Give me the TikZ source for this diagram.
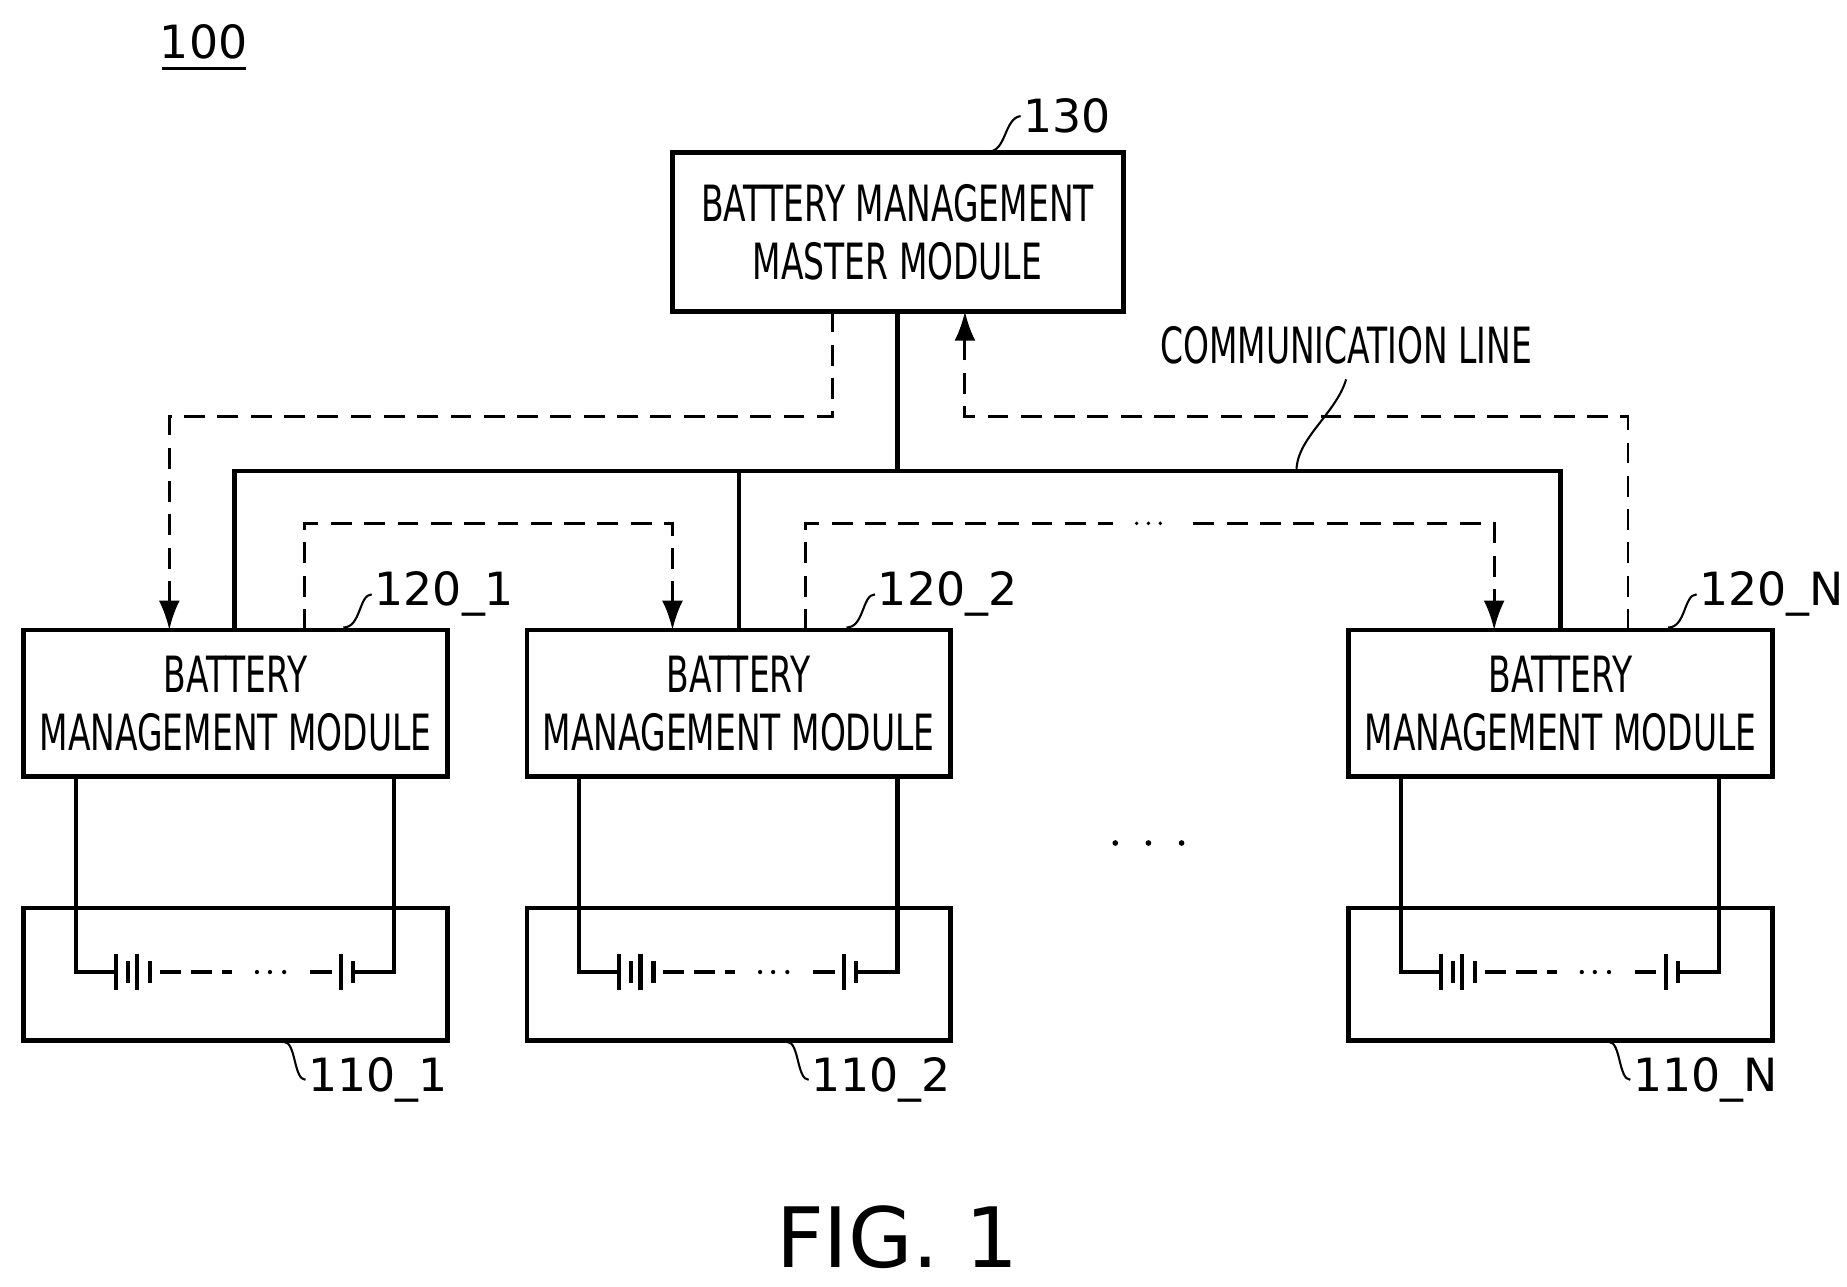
\documentclass[tikz,border=0pt]{standalone}
\usepackage{fontspec}
\setmainfont{DejaVu Sans}
\newfontfamily\narrowfont[FakeStretch=0.66]{DejaVu Sans}
\usetikzlibrary{arrows.meta}
\tikzset{box/.style = {draw, line width = 1.1pt, inner sep = 0pt},
         lab/.style = {font = \narrowfont\fontsize{12}{14}\selectfont, align = center},
         num/.style = {font = \fontsize{11}{13}\selectfont, inner sep = 0.5pt, anchor = west},
         bus/.style = {line width = 1pt},
         sig/.style = {line width = 0.7pt, dash pattern = on 5pt off 3pt},
         lead/.style = {line width = 0.5pt}}
\begin{document}
\begin{tikzpicture}%
            [x = 0.01cm, y = -0.01cm]
            \useasboundingbox (0,0) rectangle (1560,1087);
            \node [num, anchor = center] (n100) at (172,35) {100};
            \draw [line width = 0.7pt] (137,58) -- (208,58);
            
            % master
            \draw [box] (568,129) rectangle (949,263);
            \node [lab] (master) at (758,196) {BATTERY MANAGEMENT\\MASTER MODULE};
            \node [num] (n130) at (862,98) {130};
            \draw [lead] (835,128) .. controls (850,128) and (848,100) .. (n130.west);
            
            % modules and packs
            \foreach \dx/\id in {0/1, 425/2, 1119/N} {
                \draw [box] (20+\dx,532) rectangle (378+\dx,656);
                \node [lab] (bmm\id) at (199+\dx,594) {BATTERY\\MANAGEMENT MODULE};
                \draw [box] (20+\dx,767) rectangle (378+\dx,879);
                \node [num] (n120\id) at (314+\dx,502) {120\_\id};
                \draw [lead] (290+\dx,530) .. controls (305+\dx,530) and (303+\dx,502) .. (n120\id.west);
                \node [num] (n110\id) at (258+\dx,912) {110\_\id};
                \draw [lead] (240+\dx,880) .. controls (250+\dx,880) and (248+\dx,912) .. (n110\id.west);
                % cells
                \draw [bus] (64+\dx,656) -- (64+\dx,821) -- (96+\dx,821);
                \draw [bus] (333+\dx,656) -- (333+\dx,821) -- (298+\dx,821);
                \foreach \x in {98,116,288} \draw [line width = 1pt] (\x+\dx,806) -- (\x+\dx,836);
                \foreach \x in {108,127,298} \draw [line width = 1pt] (\x+\dx,812) -- (\x+\dx,830);
                \draw [line width = 1pt, dash pattern = on 5pt off 2.5pt] (135+\dx,821) -- (196+\dx,821);
                \draw [line width = 1pt] (262+\dx,821) -- (280+\dx,821);
                \foreach \x in {217,228,240} \fill (\x+\dx,821) circle (1.8);
            }
            
            % communication line
            \draw [bus] (758,263) -- (758,398);
            \draw [bus] (198,532) -- (198,398) -- (1318,398) -- (1318,532);
            \draw [bus] (624,398) -- (624,532);
            \node [lab] (comm) at (1137,292) {COMMUNICATION LINE};
            \draw [lead] (1095,398) .. controls (1095,370) and (1128,350) .. (comm.south);
            
            % signals
            \draw [sig, -{Latex[length=7pt,width=5pt]}] (703,263) -- (703,352) -- (143,352) -- (143,532);
            \draw [sig, -{Latex[length=7pt,width=5pt]}] (257,532) -- (257,442) -- (568,442) -- (568,532);
            \draw [sig] (680,532) -- (680,442) -- (940,442);
            \draw [sig, -{Latex[length=7pt,width=5pt]}] (1008,442) -- (1262,442) -- (1262,532);
            \draw [sig, -{Latex[length=7pt,width=5pt]}] (1375,532) -- (1375,352) -- (815,352) -- (815,263);
            \foreach \x in {960,970,980} \fill (\x,442) circle (1.6);
            \foreach \x in {942,970,998} \fill (\x,712) circle (2.4);
            
            \node [font = \fontsize{20}{24}\selectfont] (fig) at (758,1045) {FIG. 1};
        \end{tikzpicture}
\end{document}
